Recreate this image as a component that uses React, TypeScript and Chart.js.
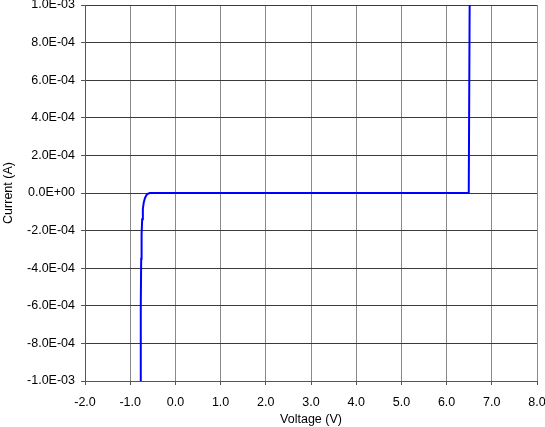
import React, { useEffect, useRef } from "react";
import { Chart, registerables } from "chart.js";

Chart.register(...registerables);

const voltage = [-0.774, -0.766, -0.757, -0.748, -0.735, -0.72, -0.7, -0.675, -0.645, -0.61, -0.57, 0.0, 3.0, 6.49, 6.51];
const current = [-1.0e-3, -6.0e-4, -3.5e-4, -2.2e-4, -1.4e-4, -8.5e-5, -5.0e-5, -2.8e-5, -1.2e-5, -4e-6, 0, 0, 0, 0, 1.0e-3];

const xMin = -2;
const xMax = 8;
const yMin = -1e-3;
const yMax = 1e-3;

function fmtExp(v: number): string {
  if (Math.abs(v) < 1e-12) return "0.0E+00";
  const s = v.toExponential(1);
  const [m, e] = s.split("e");
  const sign = e.startsWith("-") ? "-" : "+";
  const digits = e.replace(/[+-]/, "").padStart(2, "0");
  return `${m}E${sign}${digits}`;
}

export default function App() {
  const ref = useRef<HTMLCanvasElement | null>(null);
  useEffect(() => {
    document.body.style.margin = "0";
    const font = { family: "'Liberation Sans', Arial, Helvetica, sans-serif", size: 12.5 };
    const chart = new Chart(ref.current!, {
      type: "scatter",
      data: {
        datasets: [
          {
            data: voltage.map((x, i) => ({ x, y: current[i] })),
            showLine: true,
            borderColor: "#0000ff",
            borderWidth: 2,
            pointRadius: 0,
            tension: 0,
          },
        ],
      },
      options: {
        animation: false,
        responsive: false,
        maintainAspectRatio: false,
        layout: { padding: { top: 5, right: 8, left: 0, bottom: 0 } },
        plugins: { legend: { display: false }, tooltip: { enabled: false } },
        scales: {
          x: {
            type: "linear",
            min: xMin,
            max: xMax,
            afterFit: (s: any) => {
              s.height = 46;
              s.paddingLeft = 0;
              s.paddingRight = 0;
            },
            ticks: {
              stepSize: 1,
              color: "#000",
              font,
              padding: 10,
              maxRotation: 0,
              callback: (v: any) => Number(v).toFixed(1),
            },
            grid: { color: "#8a8a8a", lineWidth: 1, tickLength: 4, tickColor: "#555" },
            border: { color: "#555", width: 1 },
            title: { display: true, text: "Voltage (V)", color: "#000", font, padding: { top: 0, bottom: 0 } },
          },
          y: {
            type: "linear",
            min: yMin,
            max: yMax,
            afterFit: (s: any) => {
              s.width = 85;
              s.paddingTop = 0;
              s.paddingBottom = 0;
            },
            ticks: {
              stepSize: 2e-4,
              color: "#000",
              font,
              padding: 6,
              callback: (v: any) => fmtExp(Number(v)),
            },
            grid: { color: "#3a3a3a", lineWidth: 1, tickLength: 4, tickColor: "#555" },
            border: { color: "#555", width: 1 },
            title: { display: true, text: "Current (A)", color: "#000", font, padding: { top: 1, bottom: 0 } },
          },
        },
      },
    });
    return () => chart.destroy();
  }, []);
  return (
    <div style={{ position: "fixed", left: 0, top: 0, width: 545, height: 427, background: "#fff" }}>
      <canvas ref={ref} width={545} height={427} style={{ width: 545, height: 427 }} />
    </div>
  );
}
